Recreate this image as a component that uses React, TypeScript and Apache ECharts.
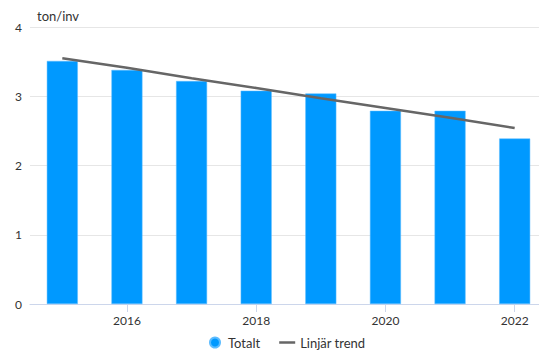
import React, { useEffect, useRef } from "react";
import * as echarts from "echarts";

const years = ["2015", "2016", "2017", "2018", "2019", "2020", "2021", "2022"];
const totalt = [3.51, 3.38, 3.22, 3.08, 3.04, 2.79, 2.79, 2.39];
const trend = [3.55, 3.41, 3.26, 3.12, 2.97, 2.83, 2.69, 2.54];
const yTicks = { min: 0, max: 4, interval: 1 };
const unitLabel = "ton/inv";

const FONT = "Lato, 'Open Sans', sans-serif";

export default function App() {
  const ref = useRef<HTMLDivElement>(null);
  useEffect(() => {
    if (!ref.current) return;
    const chart = echarts.init(ref.current, undefined, { renderer: "svg" });
    chart.setOption({
      animation: false,
      textStyle: { fontFamily: FONT },
      title: {
        text: unitLabel,
        left: 32,
        top: 4,
        textStyle: { fontFamily: FONT, fontSize: 13, fontWeight: "normal", color: "#333333" },
      },
      grid: { left: 30, right: 0, top: 27, bottom: 50, containLabel: false },
      legend: {
        bottom: 0,
        left: 204,
        itemWidth: 16,
        itemHeight: 10,
        itemGap: 19,
        textStyle: { fontFamily: FONT, fontSize: 13, color: "#333333" },
        data: [
          { name: "Totalt", icon: "circle" },
          { name: "Linjär trend", icon: "path://M0,0 H16 V2.5 H0 Z" },
        ],
      },
      xAxis: {
        type: "category",
        data: years,
        boundaryGap: true,
        axisLine: { show: true, lineStyle: { color: "#ccd6eb", width: 1 } },
        axisTick: {
          show: true,
          alignWithLabel: true,
          interval: (i: number) => i % 2 === 1,
          length: 8,
          lineStyle: { color: "#ccd6eb" },
        },
        axisLabel: {
          interval: (i: number) => i % 2 === 1,
          color: "#333333",
          fontFamily: FONT,
          fontSize: 12,
          margin: 10,
        },
        splitLine: { show: false },
      },
      yAxis: {
        type: "value",
        min: yTicks.min,
        max: yTicks.max,
        interval: yTicks.interval,
        axisLine: { show: false },
        axisTick: { show: false },
        axisLabel: { color: "#333333", fontFamily: FONT, fontSize: 12, margin: 8 },
        splitLine: { lineStyle: { color: "#e6e6e6", width: 1 } },
      },
      series: [
        {
          name: "Totalt",
          type: "bar",
          data: totalt,
          barWidth: 31,
          itemStyle: { color: "#0099ff", borderColor: "#5cbcff", borderWidth: 0.5 },
          z: 2,
        },
        {
          name: "Linjär trend",
          type: "line",
          data: trend,
          symbol: "none",
          showSymbol: false,
          lineStyle: { color: "#666666", width: 2.5 },
          itemStyle: { color: "#666666" },
          z: 3,
        },
      ],
    });
    return () => chart.dispose();
  }, []);
  return <div ref={ref} style={{ width: 547, height: 354, marginLeft: -8, marginTop: -8 }} />;
}
